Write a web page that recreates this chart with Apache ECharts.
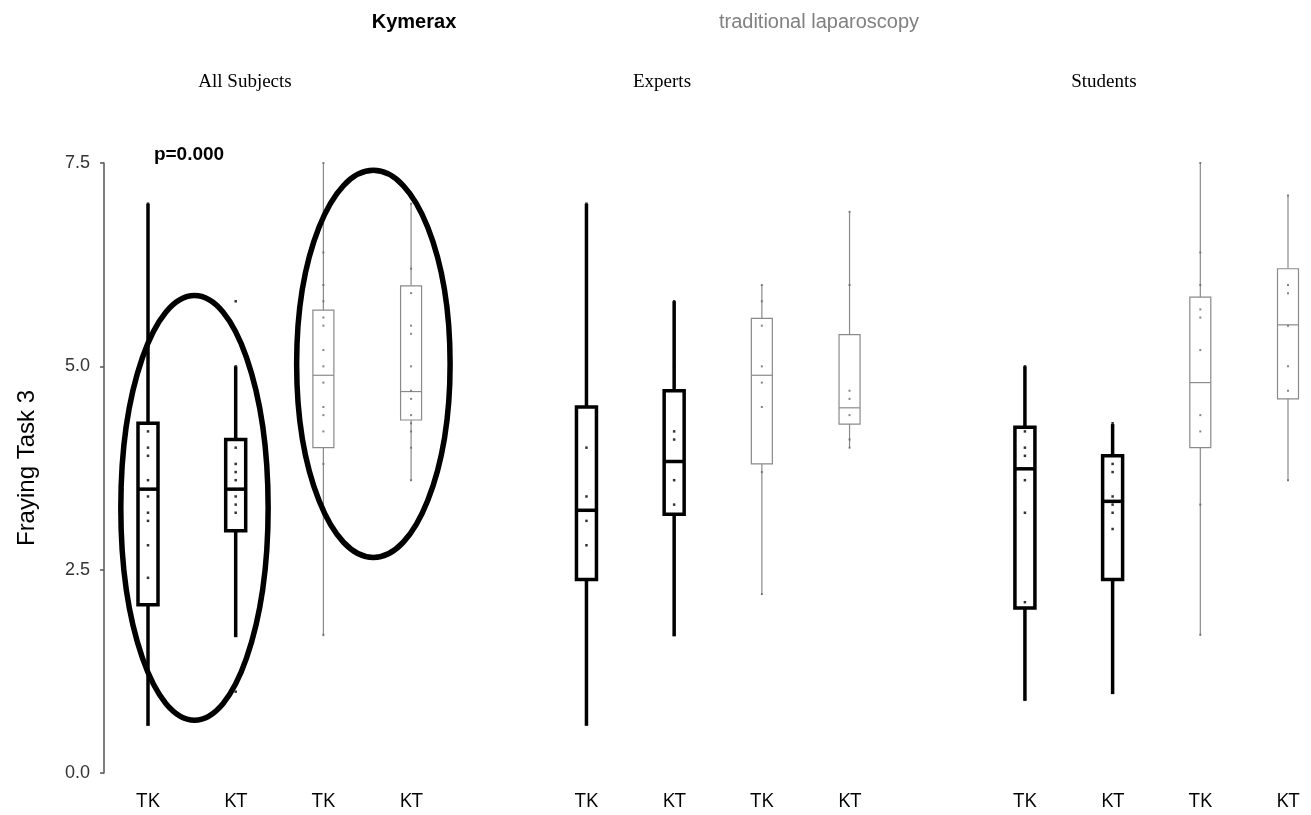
<!DOCTYPE html>
<html>
<head>
<meta charset="utf-8">
<script src="https://cdn.jsdelivr.net/npm/echarts@6/dist/echarts.min.js"></script>
<style>
html,body{margin:0;padding:0;background:#fff;}
#chart{width:1311px;height:815px;}
</style>
</head>
<body>
<div id="chart"></div>
<script>
// ---- data ----
const categories = ['TK','KT','TK','KT','','TK','KT','TK','KT','','TK','KT','TK','KT'];
const yTicks = [0, 2.5, 5.0, 7.5];

// [slot, whiskerLow, q1, median, q3, whiskerHigh]
const kymeraxBoxes = [
  [0, 0.58, 2.07, 3.49, 4.30, 7.00],
  [1, 1.67, 2.98, 3.49, 4.10, 5.00],
  [5, 0.58, 2.38, 3.23, 4.50, 7.00],
  [6, 1.68, 3.18, 3.83, 4.70, 5.80],
  [10, 0.89, 2.03, 3.74, 4.25, 5.00],
  [11, 0.97, 2.38, 3.34, 3.90, 4.29]
];
const traditionalBoxes = [
  [2, 1.68, 4.00, 4.89, 5.69, 7.50],
  [3, 3.59, 4.34, 4.69, 5.99, 7.00],
  [7, 2.19, 3.80, 4.89, 5.59, 6.00],
  [8, 4.00, 4.29, 4.49, 5.39, 6.90],
  [12, 1.69, 4.00, 4.80, 5.85, 7.50],
  [13, 3.59, 4.60, 5.51, 6.20, 7.10]
];

// individual observations [slot, value]
const kymeraxPoints = [
  [0,7.0],[0,4.2],[0,4.0],[0,3.9],[0,3.6],[0,3.4],[0,3.2],[0,3.1],[0,2.8],[0,2.4],[0,0.6],
  [1,5.8],[1,5.0],[1,4.2],[1,4.0],[1,3.8],[1,3.7],[1,3.6],[1,3.4],[1,3.3],[1,3.2],[1,1.7],[1,1.0],
  [5,7.0],[5,4.0],[5,3.4],[5,3.1],[5,2.8],[5,1.2],[5,0.6],
  [6,5.8],[6,5.0],[6,4.2],[6,4.1],[6,3.6],[6,3.3],[6,1.7],
  [10,5.0],[10,4.2],[10,4.0],[10,3.9],[10,3.6],[10,3.2],[10,2.1],[10,0.9],
  [11,4.3],[11,3.8],[11,3.7],[11,3.4],[11,3.3],[11,3.2],[11,3.0],[11,1.8],[11,1.0]
];
const traditionalPoints = [
  [2,7.5],[2,6.4],[2,6.0],[2,5.8],[2,5.6],[2,5.5],[2,5.2],[2,5.0],[2,4.8],[2,4.5],[2,4.4],[2,4.2],[2,3.8],[2,1.7],
  [3,7.0],[3,6.2],[3,5.9],[3,5.5],[3,5.4],[3,5.0],[3,4.7],[3,4.6],[3,4.4],[3,4.3],[3,4.2],[3,4.0],[3,3.6],
  [7,6.0],[7,5.8],[7,5.5],[7,5.0],[7,4.8],[7,4.5],[7,3.7],[7,2.2],
  [8,6.9],[8,6.0],[8,4.7],[8,4.6],[8,4.4],[8,4.1],[8,4.0],
  [12,7.5],[12,6.4],[12,6.0],[12,5.7],[12,5.6],[12,5.2],[12,4.4],[12,4.2],[12,3.3],[12,1.7],
  [13,7.1],[13,6.0],[13,5.9],[13,5.5],[13,5.0],[13,4.7],[13,3.6]
];

// highlight ellipses [centerSlot, centerValue, radiusSlots, radiusValue]
const ellipses = [
  [0.53, 3.26, 0.84, 2.61],
  [2.57, 5.03, 0.875, 2.38]
];

const panelTitles = ['All Subjects', 'Experts', 'Students'];
const legendTexts = ['Kymerax', 'traditional laparoscopy'];
const pValueText = 'p=0.000';
const yName = 'Fraying Task 3';

// ---- chart ----
const chart = echarts.init(document.getElementById('chart'), null, {renderer: 'canvas'});

function boxRenderer(color, lw, w) {
  return function (params, api) {
    const x = api.value(0);
    const lo = api.coord([x, api.value(1)]);
    const q1 = api.coord([x, api.value(2)]);
    const md = api.coord([x, api.value(3)]);
    const q3 = api.coord([x, api.value(4)]);
    const hi = api.coord([x, api.value(5)]);
    const cx = lo[0];
    const ls = {stroke: color, lineWidth: lw, fill: null};
    return {
      type: 'group',
      children: [
        {type: 'line', shape: {x1: cx, y1: hi[1], x2: cx, y2: q3[1]}, style: ls},
        {type: 'line', shape: {x1: cx, y1: q1[1], x2: cx, y2: lo[1]}, style: ls},
        {type: 'rect', shape: {x: cx - w / 2, y: q3[1], width: w, height: q1[1] - q3[1]},
          style: {stroke: color, lineWidth: lw, fill: '#fff'}},
        {type: 'line', shape: {x1: cx - w / 2, y1: md[1], x2: cx + w / 2, y2: md[1]}, style: ls}
      ]
    };
  };
}

function ellipseRenderer(params, api) {
  const c = api.coord([api.value(0), api.value(1)]);
  const r0 = api.coord([api.value(0) + api.value(2), api.value(1) + api.value(3)]);
  return {
    type: 'ellipse',
    shape: {cx: c[0], cy: c[1], rx: Math.abs(r0[0] - c[0]), ry: Math.abs(c[1] - r0[1])},
    style: {fill: null, stroke: '#000', lineWidth: 5.5}
  };
}

const option = {
  animation: false,
  backgroundColor: '#fff',
  grid: {left: 148, right: 23, top: 163, bottom: 42, containLabel: false},
  xAxis: {
    type: 'value', min: 0, max: 13, interval: 1,
    axisLine: {show: false}, axisTick: {show: false}, splitLine: {show: false},
    axisLabel: {
      formatter: v => categories[Math.round(v)] || '',
      margin: 18, fontSize: 20, color: '#000', fontFamily: 'Open Sans',
      showMinLabel: true, showMaxLabel: true
    }
  },
  yAxis: {
    type: 'value', min: yTicks[0], max: yTicks[yTicks.length - 1], interval: 2.5,
    offset: 44,
    axisLine: {show: true, onZero: false, lineStyle: {color: '#555', width: 1.5}},
    axisTick: {show: true, length: 4, lineStyle: {color: '#555', width: 1.5}},
    splitLine: {show: false},
    axisLabel: {formatter: v => v.toFixed(1), fontSize: 18, color: '#333', margin: 14, fontFamily: 'Liberation Sans'}
  },
  graphic: [
    {type: 'text', x: 414, y: 22, style: {text: legendTexts[0], font: 'bold 20px "Liberation Sans"', fill: '#000', align: 'center', verticalAlign: 'middle'}},
    {type: 'text', x: 819, y: 22, style: {text: legendTexts[1], font: '20px "Liberation Sans"', fill: '#808080', align: 'center', verticalAlign: 'middle'}},
    {type: 'text', x: 245, y: 82, style: {text: panelTitles[0], font: '19px "Liberation Serif"', fill: '#000', align: 'center', verticalAlign: 'middle'}},
    {type: 'text', x: 662, y: 82, style: {text: panelTitles[1], font: '19px "Liberation Serif"', fill: '#000', align: 'center', verticalAlign: 'middle'}},
    {type: 'text', x: 1104, y: 82, style: {text: panelTitles[2], font: '19px "Liberation Serif"', fill: '#000', align: 'center', verticalAlign: 'middle'}},
    {type: 'text', x: 189, y: 155, style: {text: pValueText, font: 'bold 19px "Liberation Sans"', fill: '#000', align: 'center', verticalAlign: 'middle'}},
    {type: 'text', x: 27, y: 468, rotation: Math.PI / 2, style: {text: yName, font: '24px "Liberation Sans"', fill: '#000', align: 'center', verticalAlign: 'middle'}}
  ],
  series: [
    {
      type: 'custom', name: 'traditional laparoscopy', renderItem: boxRenderer('#8a8a8a', 1.2, 21),
      data: traditionalBoxes, encode: {x: 0, y: [1, 2, 3, 4, 5]}, z: 2
    },
    {
      type: 'custom', name: 'Kymerax', renderItem: boxRenderer('#000', 3.5, 20),
      data: kymeraxBoxes, encode: {x: 0, y: [1, 2, 3, 4, 5]}, z: 2
    },
    {
      type: 'scatter', name: 'traditional points', data: traditionalPoints,
      symbol: 'rect', symbolSize: 2, itemStyle: {color: '#666'}, z: 3, silent: true
    },
    {
      type: 'scatter', name: 'Kymerax points', data: kymeraxPoints,
      symbol: 'rect', symbolSize: 2.5, itemStyle: {color: '#000'}, z: 3, silent: true
    },
    {
      type: 'custom', name: 'ellipses', renderItem: ellipseRenderer,
      data: ellipses, encode: {x: 0, y: 1}, z: 4, silent: true
    }
  ]
};
chart.setOption(option);
</script>
</body>
</html>
